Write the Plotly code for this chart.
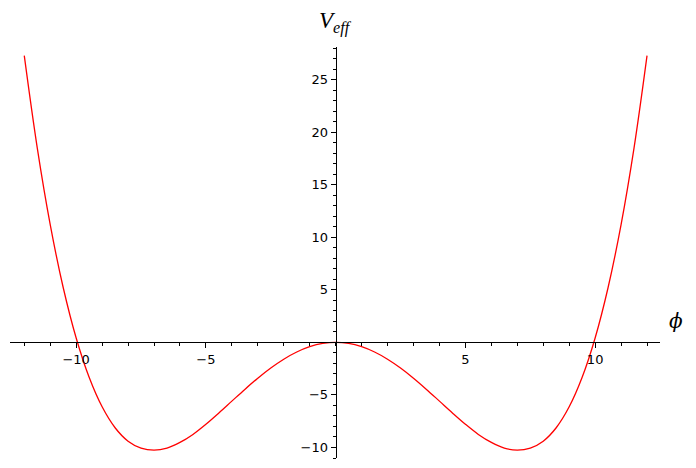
import plotly.graph_objects as go

# values
phi = [-12, -11.5, -11, -10.5, -10, -9.5, -9, -8.5, -8, -7.5, -7, -6.5, -6, -5.5, -5,
       -4.5, -4, -3.5, -3, -2.5, -2, -1.5, -1, -0.5, 0,
       0.5, 1, 1.5, 2, 2.5, 3, 3.5, 4, 4.5, 5, 5.5, 6, 6.5, 7, 7.5, 8, 8.5, 9,
       9.5, 10, 10.5, 11, 11.5, 12]
v_pos = [0, -0.104, -0.413, -0.917, -1.600, -2.441, -3.410, -4.474, -5.591, -6.714,
         -7.789, -8.756, -9.52, -10.06, -10.25, -10.06, -9.40, -8.12, -6.13,
         -3.32, 0.42, 5.221, 11.206, 18.511, 27.28]
v_eff = v_pos[::-1][:-1] + v_pos

x_ticks = [-10, -5, 5, 10]
y_ticks = [-10, -5, 5, 10, 15, 20, 25]

x_range = [-12.55, 12.5]
y_range = [-11.0, 28.1]

fig = go.Figure()
fig.add_trace(go.Scatter(x=phi, y=v_eff, mode="lines",
                         line=dict(color="#ff0000", width=1.3, shape="spline", smoothing=1.0),
                         showlegend=False, hoverinfo="skip"))

plot_h = 468 - 39 - 18
plot_w = 696 - 2 - 44
tickfont = dict(family="DejaVu Sans", size=13, color="black")
fig.update_layout(
    width=696, height=468,
    margin=dict(l=2, r=44, t=39, b=18, autoexpand=False),
    paper_bgcolor="white", plot_bgcolor="white",
    xaxis=dict(range=x_range, showgrid=False, zeroline=False, showline=True,
               linecolor="black", linewidth=1, anchor="free", automargin=False,
               position=(0 - y_range[0]) / (y_range[1] - y_range[0]),
               tickmode="array", tickvals=x_ticks, ticks="outside", ticklen=5,
               tickcolor="black", tickwidth=1, tickfont=tickfont,
               minor=dict(dtick=1, tick0=0, ticks="outside", ticklen=3,
                          tickcolor="black", showgrid=False)),
    yaxis=dict(range=y_range, showgrid=False, zeroline=False, showline=True,
               linecolor="black", linewidth=1, anchor="free", automargin=False,
               position=(0 - x_range[0]) / (x_range[1] - x_range[0]),
               tickmode="array", tickvals=y_ticks, ticks="outside", ticklen=5,
               tickcolor="black", tickwidth=1, tickfont=tickfont,
               minor=dict(dtick=1, tick0=0, ticks="outside", ticklen=3,
                          tickcolor="black", showgrid=False)),
    annotations=[
        dict(x=(0 - x_range[0]) / (x_range[1] - x_range[0]), y=1 + 8 / plot_h,
             xref="paper", yref="paper", showarrow=False, yanchor="bottom",
             text="<i>V</i><sub><i>eff</i></sub>",
             font=dict(family="Liberation Serif", size=23, color="black")),
        dict(x=1 + 25 / plot_w, y=(0.7 - y_range[0]) / (y_range[1] - y_range[0]),
             xref="paper", yref="paper", showarrow=False,
             text="<i>ϕ</i>",
             font=dict(family="DejaVu Serif", size=20, color="black")),
    ],
)

fig.write_html("out.html")
